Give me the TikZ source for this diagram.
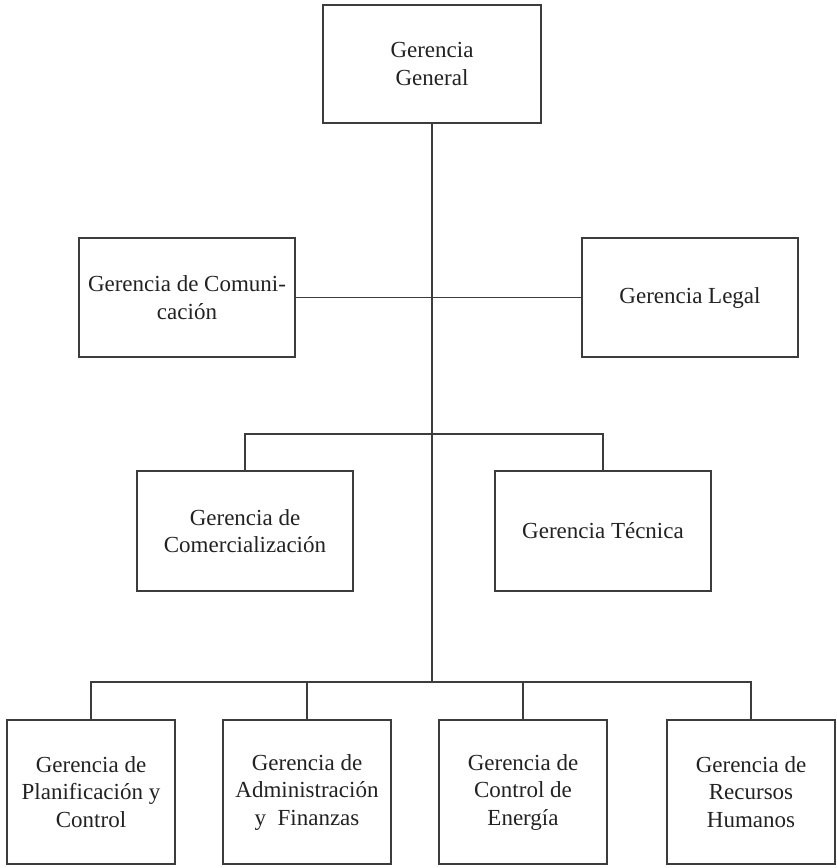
\documentclass[tikz,border=0pt]{standalone}
\usepackage{fontspec}
\setmainfont{Liberation Serif}
\definecolor{linec}{HTML}{3C3C3C}
\definecolor{textc}{HTML}{222222}
\begin{document}
\begin{tikzpicture}[x=1pt,y=-1pt,
  box/.style={draw=linec, line width=1.3pt, rectangle, inner sep=0pt, align=center,
    text=textc, font=\fontsize{23}{27.5}\selectfont},
  toplevel/.style={box, minimum width=218pt, minimum height=118pt},
  midbox/.style={box, minimum width=216pt, minimum height=119pt},
  lowbox/.style={box, minimum width=168pt, minimum height=144pt},
  conn/.style={draw=linec, line width=1.3pt}]
\useasboundingbox (0,0) rectangle (837,868);
\node[toplevel] (gg) at (432,64) {Gerencia\\General};
\node[midbox] (com) at (187,297.5) {Gerencia de Comuni-\\cación};
\node[midbox] (leg) at (690,297.5) {Gerencia Legal};
\node[midbox, minimum height=120pt] (comz) at (245,531) {Gerencia de\\Comercialización};
\node[midbox, minimum height=120pt] (tec) at (603,531) {Gerencia Técnica};
\node[lowbox] (b1) at (91,792) {Gerencia de\\Planificación y\\Control};
\node[lowbox] (b2) at (307,792) {Gerencia de\\Administración\\y~ Finanzas};
\node[lowbox] (b3) at (523,792) {Gerencia de\\Control de\\Energía};
\node[lowbox] (b4) at (751,792) {Gerencia de\\Recursos\\Humanos};
\coordinate (j3) at (432,434);
\coordinate (j4) at (432,682);
\draw[conn] (gg.south) -- (j4);
\draw[conn] (com.east) -- (leg.west);
\draw[conn] (comz.north) |- (j3) -| (tec.north);
\draw[conn] (b1.north) |- (j4) -| (b4.north);
\draw[conn] (b2.north) -- (b2.north |- j4);
\draw[conn] (b3.north) -- (b3.north |- j4);
\end{tikzpicture}
\end{document}
